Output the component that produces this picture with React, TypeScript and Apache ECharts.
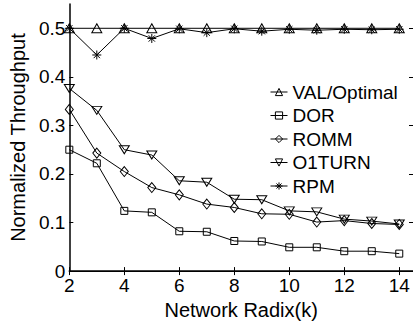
import React, { useEffect, useRef } from "react";
import * as echarts from "echarts";

const radix = [2, 3, 4, 5, 6, 7, 8, 9, 10, 11, 12, 13, 14];
const valOptimal = [0.5, 0.5, 0.5, 0.5, 0.5, 0.5, 0.5, 0.5, 0.5, 0.5, 0.5, 0.5, 0.5];
const dor = [0.25, 0.222, 0.124, 0.121, 0.082, 0.081, 0.062, 0.061, 0.049, 0.049, 0.041, 0.041, 0.036];
const romm = [0.333, 0.243, 0.205, 0.172, 0.157, 0.138, 0.131, 0.118, 0.117, 0.101, 0.104, 0.098, 0.096];
const o1turn = [0.376, 0.331, 0.25, 0.239, 0.186, 0.183, 0.148, 0.147, 0.124, 0.122, 0.107, 0.103, 0.097];
const rpm = [0.5, 0.445, 0.5, 0.479, 0.499, 0.491, 0.499, 0.494, 0.498, 0.496, 0.498, 0.497, 0.498];

const xTicks = [2, 4, 6, 8, 10, 12, 14];
const yTicks = [0, 0.1, 0.2, 0.3, 0.4, 0.5];

const FONT = "Liberation Sans";
const ASTERISK = "path://M5,0L5,10M0,5L10,5M1.5,1.5L8.5,8.5M1.5,8.5L8.5,1.5";

function pairs(ys: number[]) {
  return radix.map((x, i) => [x, ys[i]]);
}

export default function App() {
  const ref = useRef<HTMLDivElement>(null);
  useEffect(() => {
    if (!ref.current) return;
    const chart = echarts.init(ref.current, undefined, { renderer: "svg" });
    const lineStyle = { color: "#000", width: 1 };
    const itemStyle = { color: "rgba(0,0,0,0)", borderColor: "#000", borderWidth: 1 };
    const mk = (name: string, ys: number[], symbol: string, size: any, rotate = 0) => ({
      name,
      type: "line",
      data: pairs(ys),
      symbol,
      symbolSize: size,
      symbolRotate: rotate,
      showAllSymbol: true,
      lineStyle,
      itemStyle,
      emphasis: { disabled: true },
    });
    const axisLineStyle = { show: true, lineStyle: { color: "#000", width: 1.5 } };
    chart.setOption({
      animation: false,
      backgroundColor: "#fff",
      textStyle: { fontFamily: FONT, color: "#000" },
      grid: { left: 66.7, top: 4, right: -3, bottom: 52.7, containLabel: false },
      legend: {
        orient: "vertical",
        left: 265,
        top: 77.5,
        itemWidth: 17,
        itemHeight: 9,
        itemGap: 4.5,
        itemStyle: { color: "rgba(0,0,0,0)", borderColor: "#000", borderWidth: 1 },
        lineStyle: { color: "#000", width: 1 },
        textStyle: { fontFamily: FONT, fontSize: 19, color: "#000", lineHeight: 19 },
        data: ["VAL/Optimal", "DOR", "ROMM", "O1TURN", "RPM"],
      },
      xAxis: [
        {
          type: "value",
          min: 2,
          max: 14.5,
          interval: 2,
          name: "Network Radix(k)",
          nameLocation: "middle",
          nameGap: 19,
          nameTextStyle: { fontFamily: FONT, fontSize: 20, color: "#000" },
          axisLine: axisLineStyle,
          axisTick: { show: true, inside: true, length: 4, customValues: xTicks, lineStyle: { color: "#000" } },
          axisLabel: { customValues: xTicks, fontFamily: FONT, fontSize: 19, color: "#000", margin: 5 },
          splitLine: { show: false },
        },
        {
          type: "value",
          position: "top",
          min: 2,
          max: 14.5,
          interval: 2,
          axisLine: { show: true, lineStyle: { color: "#000", width: 1 } },
          axisTick: { show: true, inside: true, length: 4, customValues: xTicks, lineStyle: { color: "#000" } },
          axisLabel: { show: false },
          splitLine: { show: false },
        },
      ],
      yAxis: [
        {
          type: "value",
          min: 0,
          max: 0.55,
          interval: 0.1,
          name: "Normalized Throughput",
          nameLocation: "middle",
          nameGap: 35,
          nameTextStyle: { fontFamily: FONT, fontSize: 20, color: "#000" },
          axisLine: axisLineStyle,
          axisTick: { show: true, inside: true, length: 4, customValues: yTicks, lineStyle: { color: "#000" } },
          axisLabel: { customValues: yTicks, fontFamily: FONT, fontSize: 19, color: "#000", margin: 4 },
          splitLine: { show: false },
        },
        {
          type: "value",
          position: "right",
          min: 0,
          max: 0.55,
          interval: 0.1,
          axisLine: { show: true, lineStyle: { color: "#000", width: 1 } },
          axisTick: { show: true, inside: true, length: 4, customValues: yTicks, lineStyle: { color: "#000" } },
          axisLabel: { show: false },
          splitLine: { show: false },
        },
      ],
      series: [
        mk("VAL/Optimal", valOptimal, "triangle", [10, 9]),
        mk("DOR", dor, "rect", 7),
        mk("ROMM", romm, "diamond", [8, 10]),
        mk("O1TURN", o1turn, "triangle", [10, 8], 180),
        mk("RPM", rpm, ASTERISK, 9),
      ],
    });
    return () => chart.dispose();
  }, []);
  return (
    <div
      ref={ref}
      style={{ position: "fixed", left: 0, top: 0, width: 413, height: 325, background: "#fff" }}
    />
  );
}
